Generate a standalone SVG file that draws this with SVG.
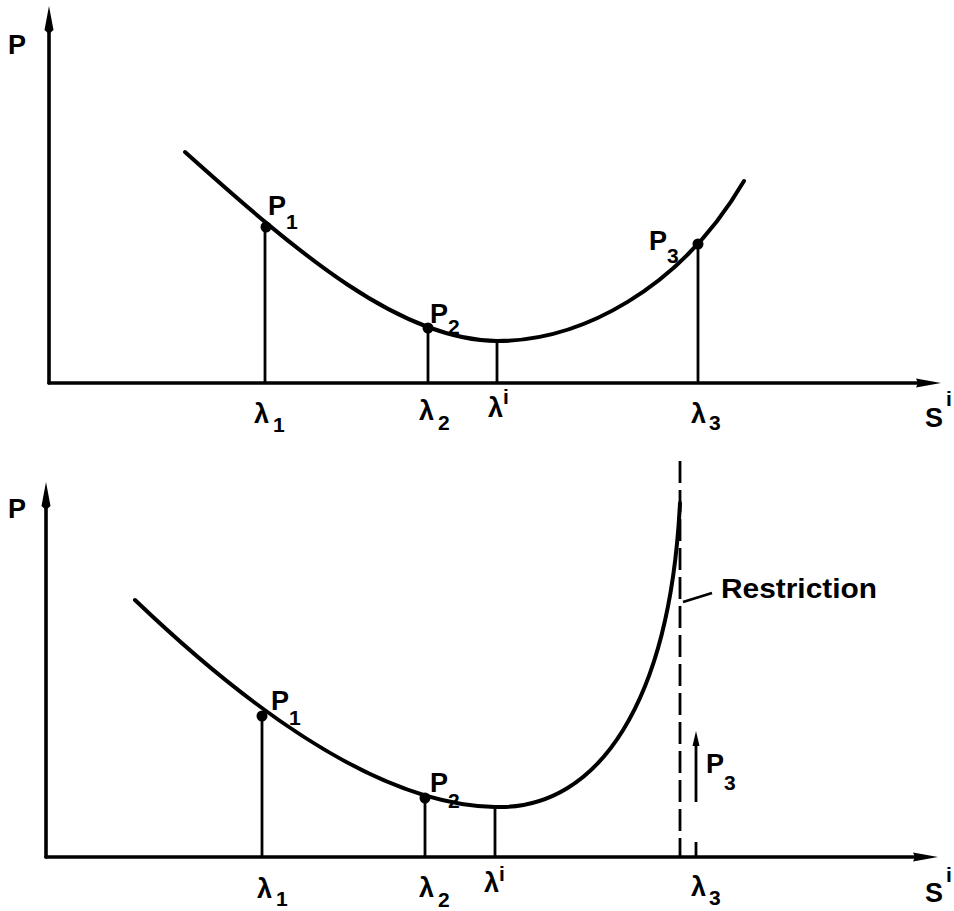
<svg xmlns="http://www.w3.org/2000/svg" width="954" height="911" viewBox="0 0 954 911">
<style>
.ax{stroke:#000;stroke-width:3.6;fill:none;stroke-linecap:round}
.cv{stroke:#000;stroke-width:4;fill:none;stroke-linecap:round}
.vl{stroke:#000;stroke-width:2.8;fill:none}
.dash{stroke:#000;stroke-width:2.8;fill:none;stroke-dasharray:22 7}
.hd{fill:#000}
.t{font-family:"Liberation Sans",Arial,sans-serif;font-weight:bold;font-size:27px;fill:#000}
.s{font-size:21px}
</style>
<rect width="954" height="911" fill="#fff"/>
<g id="connectors">
  <path class="ax" d="M49,383 L49,22"/>
  <path class="hd" d="M49,6 L53.5,30 L49,34 L44.5,30 Z"/>
  <path class="ax" d="M49,383 L925,383"/>
  <path class="hd" d="M941,383 L916,378.5 L918,383 L916,387.5 Z"/>
  <path class="cv" d="M185,152 C300,255 400,340 497,341 C580,341 680,290 744,181"/>
  <path class="vl" d="M265,227 L265,383"/>
  <path class="vl" d="M428,328 L428,383"/>
  <path class="vl" d="M497,341 L497,383"/>
  <path class="vl" d="M698,244 L698,383"/>
  <path class="ax" d="M46,857 L46,498"/>
  <path class="hd" d="M46,482 L50.5,506 L46,510 L41.5,506 Z"/>
  <path class="ax" d="M46,857 L922,857"/>
  <path class="hd" d="M938,857 L913,852.5 L915,857 L913,861.5 Z"/>
  <path class="cv" d="M135,600 C250,710 380,805 495,807 C600,810 670,700 680,503"/>
  <path class="vl" d="M262,716 L262,857"/>
  <path class="vl" d="M425,798 L425,857"/>
  <path class="vl" d="M495,807 L495,857"/>
  <path class="dash" d="M680,461 L680,857"/>
  <path class="vl" d="M696,842 L696,857"/>
  <path class="vl" d="M696,802 L696,742"/>
  <path class="hd" d="M696,731 L699.5,746 L692.5,746 Z"/>
  <path class="vl" d="M683,602 L712,593"/>
</g>
<g id="points">
  <circle cx="266" cy="227" r="5.5"/>
  <circle cx="428" cy="328" r="5.5"/>
  <circle cx="698" cy="244" r="5.5"/>
  <circle cx="262" cy="716" r="5.5"/>
  <circle cx="425" cy="798" r="5.5"/>
</g>
<g id="labels-top">
  <text class="t" x="8" y="54">P</text>
  <text class="t" x="268" y="215">P<tspan class="s" dy="14">1</tspan></text>
  <text class="t" x="430" y="323">P<tspan class="s" dy="11">2</tspan></text>
  <text class="t" x="649" y="250">P<tspan class="s" dy="13">3</tspan></text>
  <text class="t" x="254" y="423">λ<tspan class="s" dx="4" dy="9">1</tspan></text>
  <text class="t" x="419" y="420">λ<tspan class="s" dx="4" dy="10">2</tspan></text>
  <text class="t" x="488" y="417">λ<tspan class="s" dy="-13">i</tspan></text>
  <text class="t" x="691" y="423">λ<tspan class="s" dx="3" dy="7">3</tspan></text>
  <text class="t" x="925" y="427">S<tspan class="s" dx="3" dy="-21">i</tspan></text>
</g>
<g id="labels-bottom">
  <text class="t" x="8" y="518">P</text>
  <text class="t" x="271" y="710">P<tspan class="s" dy="15">1</tspan></text>
  <text class="t" x="430" y="792">P<tspan class="s" dy="16">2</tspan></text>
  <text class="t" x="706" y="773">P<tspan class="s" dy="17">3</tspan></text>
  <text class="t" x="257" y="898">λ<tspan class="s" dx="4" dy="8">1</tspan></text>
  <text class="t" x="419" y="897">λ<tspan class="s" dx="4" dy="10">2</tspan></text>
  <text class="t" x="484" y="892">λ<tspan class="s" dy="-11">i</tspan></text>
  <text class="t" x="691" y="896">λ<tspan class="s" dx="3" dy="9">3</tspan></text>
  <text class="t" x="925" y="902">S<tspan class="s" dx="3" dy="-20">i</tspan></text>
  <text class="t" x="721" y="598" textLength="156" lengthAdjust="spacingAndGlyphs">Restriction</text>
</g>
</svg>
